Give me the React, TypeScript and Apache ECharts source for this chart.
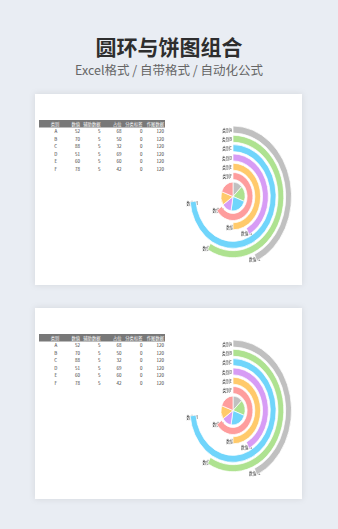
import React, { useEffect, useRef } from "react";
import * as echarts from "echarts";

const categories = ["A", "B", "C", "D", "E", "F"];
const values = [52, 70, 88, 51, 60, 78];
const auxData = [5, 5, 5, 5, 5, 5];
const placeholders = [68, 50, 32, 69, 60, 42];
const labelData = [0, 0, 0, 0, 0, 0];
const plotData = [120, 120, 120, 120, 120, 120];
const headers = ["类别", "数值", "辅助数据", "占位", "分类标签", "作图数据"];
const colors = ["#c0c0c0", "#aee290", "#70d5fb", "#d79cf5", "#ffca6b", "#fe9d9d"];

const FONT = "'Noto Sans CJK SC', 'Noto Sans', sans-serif";
const CARD_OFFSETS = [0, 214];
const CX = 233;
const CY = 196.5;
const RING_OUTER = [70.5, 61.2, 51.9, 42.6, 33.3, 24];
const RING_W = 7;
const PIE_R = 14.5;

function buildMainGraphic() {
  const g: any[] = [];
  g.push({
    type: "text",
    x: 169,
    y: 46,
    style: { text: "圆环与饼图组合", fontSize: 21, lineHeight: 21, fontWeight: "bold", fill: "#2e2e2e", fontFamily: FONT, align: "center", verticalAlign: "middle" },
  });
  g.push({
    type: "text",
    x: 169,
    y: 69,
    style: { text: "Excel格式 / 自带格式 / 自动化公式", fontSize: 12.5, lineHeight: 12.5, fill: "#666", fontFamily: FONT, align: "center", verticalAlign: "middle" },
  });
  const colRight = [0, 80, 100.5, 121.5, 142.5, 164];
  CARD_OFFSETS.forEach((dy) => {
    g.push({
      type: "rect",
      shape: { x: 35, y: 94 + dy, width: 267, height: 191 },
      style: { fill: "#fff", shadowBlur: 6, shadowColor: "rgba(0,0,0,0.10)" },
    });
    g.push({
      type: "rect",
      shape: { x: 39, y: 120 + dy, width: 126, height: 7.5 },
      style: { fill: "#787878" },
    });
    headers.forEach((h, j) => {
      g.push({
        type: "text",
        x: j === 0 ? 55 : colRight[j],
        y: 123.9 + dy,
        style: { text: h, fontSize: 4.3, fill: "#fff", fontFamily: FONT, align: j === 0 ? "center" : "right", verticalAlign: "middle" },
      });
    });
    categories.forEach((c, i) => {
      const row = [c, values[i], auxData[i], placeholders[i], labelData[i], plotData[i]];
      row.forEach((v, j) => {
        g.push({
          type: "text",
          x: j === 0 ? 55.8 : colRight[j],
          y: 131.3 + i * 7.5 + dy,
          style: { text: String(v), fontSize: 4.5, fill: "#333", fontFamily: FONT, align: j === 0 ? "center" : "right", verticalAlign: "middle" },
        });
      });
    });
  });
  return g;
}

function buildRingOption() {
  const series: any[] = [];
  const graphic: any[] = [];
  CARD_OFFSETS.forEach((dy) => {
    const cy = CY + dy;
    categories.forEach((c, i) => {
      const ro = RING_OUTER[i];
      series.push({
        type: "pie",
        center: [CX, cy],
        radius: [ro - RING_W, ro],
        startAngle: 90,
        clockwise: true,
        silent: true,
        label: { show: false },
        labelLine: { show: false },
        emphasis: { disabled: true },
        data: [
          { name: c, value: values[i], itemStyle: { color: colors[i], borderColor: "#fff", borderWidth: 0.8 } },
          { name: c + "占位", value: placeholders[i], itemStyle: { color: "rgba(0,0,0,0)" } },
        ],
      });
      const rm = ro - RING_W / 2;
      graphic.push({
        type: "text",
        x: CX - 1.2,
        y: cy - rm,
        style: { text: "类别" + c, fontSize: 4.5, fill: "#3a3a3a", fontFamily: FONT, align: "right", verticalAlign: "middle" },
      });
      const theta = ((90 - (values[i] / (values[i] + placeholders[i])) * 360) * Math.PI) / 180;
      graphic.push({
        type: "text",
        x: CX + rm * Math.cos(theta) - 1,
        y: cy - rm * Math.sin(theta) + 1,
        style: { text: "数值" + values[i], fontSize: 4.5, fill: "#3a3a3a", fontFamily: FONT, align: "center", verticalAlign: "middle" },
      });
    });
    series.push({
      type: "pie",
      center: [CX, cy],
      radius: [0, PIE_R],
      startAngle: 90,
      clockwise: true,
      silent: true,
      label: { show: false },
      labelLine: { show: false },
      emphasis: { disabled: true },
      itemStyle: { borderColor: "#fff", borderWidth: 0.8 },
      data: categories.map((c, i) => ({ name: c, value: values[i], itemStyle: { color: colors[i] } })),
    });
  });
  return { animation: false, backgroundColor: "rgba(0,0,0,0)", series, graphic };
}

export default function App() {
  const mainRef = useRef<HTMLDivElement>(null);
  const ringRef = useRef<HTMLDivElement>(null);
  useEffect(() => {
    const main = echarts.init(mainRef.current!, undefined, { renderer: "svg" });
    main.setOption({ animation: false, backgroundColor: "#e9edf3", graphic: buildMainGraphic() });
    const ring = echarts.init(ringRef.current!, undefined, { renderer: "svg" });
    ring.setOption(buildRingOption());
    return () => {
      main.dispose();
      ring.dispose();
    };
  }, []);
  return (
    <div style={{ position: "fixed", left: 0, top: 0, width: 338, height: 529 }}>
      <div ref={mainRef} style={{ position: "absolute", left: 0, top: 0, width: 338, height: 529 }} />
      <div
        ref={ringRef}
        style={{
          position: "absolute",
          left: 0,
          top: 0,
          width: 338,
          height: 529,
          transform: "scaleX(0.83)",
          transformOrigin: "233px 0px",
          pointerEvents: "none",
        }}
      />
    </div>
  );
}
